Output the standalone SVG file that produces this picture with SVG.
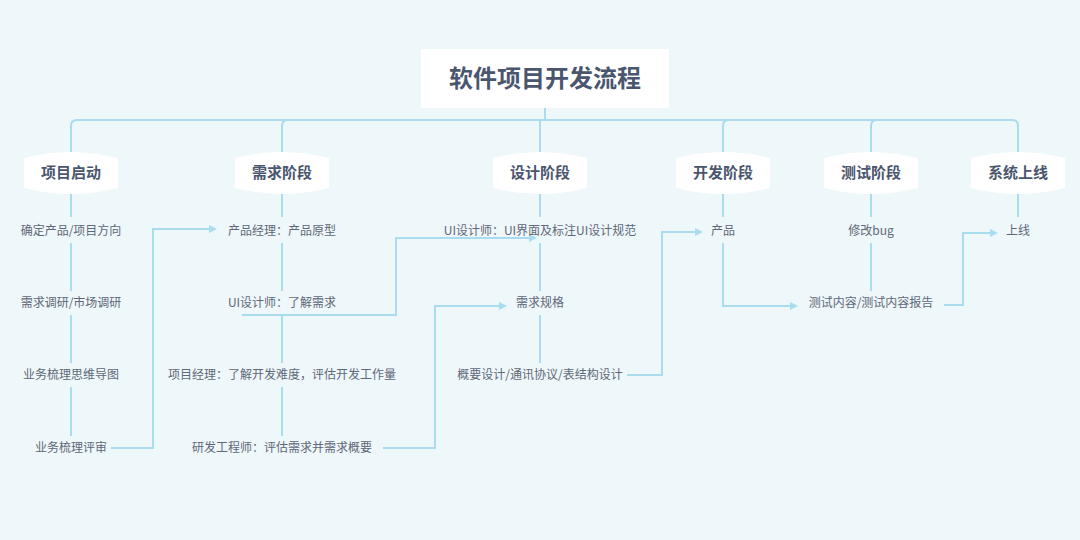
<svg xmlns="http://www.w3.org/2000/svg" width="1080" height="540" viewBox="0 0 1080 540">
<defs>
<style>
.ln{fill:none;stroke:#a9dcef;stroke-width:2;}
.ph{fill:#ffffff;}
.pt{font-family:"Noto Sans CJK SC","Noto Sans",sans-serif;font-size:15px;font-weight:bold;fill:#4a566e;text-anchor:middle;}
.ct{font-family:"Noto Sans CJK SC","Noto Sans",sans-serif;font-size:12px;fill:#5f6878;text-anchor:middle;}
.tt{font-family:"Noto Sans CJK SC","Noto Sans",sans-serif;font-size:24px;font-weight:bold;fill:#4a566e;text-anchor:middle;}
</style>
<marker id="arr" markerWidth="8" markerHeight="8" refX="0" refY="4" orient="auto" markerUnits="userSpaceOnUse">
<path d="M0,0 L8,4 L0,8 Z" fill="#a9dcef"/>
</marker>
</defs>
<rect x="0" y="0" width="1080" height="540" fill="#eef7fa"/>
<g id="connectors">
<path class="ln" d="M545,108 L545,120"/>
<path class="ln" d="M71,217 L71,126 Q71,120 77,120 L1012,120 Q1018,120 1018,126 L1018,217"/>
<path class="ln" d="M282,217 L282,126 Q282,120 288,120"/>
<path class="ln" d="M540,120 L540,217"/>
<path class="ln" d="M723,217 L723,126 Q723,120 729,120"/>
<path class="ln" d="M871,217 L871,126 Q871,120 877,120"/>
<path class="ln" d="M71,243 L71,291 M71,315 L71,363 M71,387 L71,436"/>
<path class="ln" d="M282,243 L282,291 M282,315 L282,363 M282,387 L282,436"/>
<path class="ln" d="M540,243 L540,291 M540,315 L540,363"/>
<path class="ln" d="M871,243 L871,291"/>
<path class="ln" d="M111,448 L153,448 L153,229 L209,229" marker-end="url(#arr)"/>
<path class="ln" d="M242,315 L396,315 L396,238 L529,238" marker-end="url(#arr)"/>
<path class="ln" d="M383,448 L435,448 L435,306 L499,306" marker-end="url(#arr)"/>
<path class="ln" d="M627,375 L662,375 L662,232 L695,232" marker-end="url(#arr)"/>
<path class="ln" d="M723,243 L723,306 L790,306" marker-end="url(#arr)"/>
<path class="ln" d="M944,305 L963,305 L963,233 L990,233" marker-end="url(#arr)"/>
</g>
<g id="title">
<rect x="421" y="49" width="248" height="59" fill="#ffffff"/>
<text class="tt" x="545" y="87">软件项目开发流程</text>
</g>
<g id="phase1">
<path class="ph" d="M24,158 Q71,146 118,158 L118,188 Q71,200 24,188 Z"/>
<text class="pt" x="71" y="178">项目启动</text>
</g>
<g id="phase2">
<path class="ph" d="M235,158 Q282,146 329,158 L329,188 Q282,200 235,188 Z"/>
<text class="pt" x="282" y="178">需求阶段</text>
</g>
<g id="phase3">
<path class="ph" d="M493,158 Q540,146 587,158 L587,188 Q540,200 493,188 Z"/>
<text class="pt" x="540" y="178">设计阶段</text>
</g>
<g id="phase4">
<path class="ph" d="M676,158 Q723,146 770,158 L770,188 Q723,200 676,188 Z"/>
<text class="pt" x="723" y="178">开发阶段</text>
</g>
<g id="phase5">
<path class="ph" d="M824,158 Q871,146 918,158 L918,188 Q871,200 824,188 Z"/>
<text class="pt" x="871" y="178">测试阶段</text>
</g>
<g id="phase6">
<path class="ph" d="M971,158 Q1018,146 1065,158 L1065,188 Q1018,200 971,188 Z"/>
<text class="pt" x="1018" y="178">系统上线</text>
</g>
<g id="c1a"><text class="ct" x="71" y="235">确定产品/项目方向</text></g>
<g id="c1b"><text class="ct" x="71" y="307">需求调研/市场调研</text></g>
<g id="c1c"><text class="ct" x="71" y="379">业务梳理思维导图</text></g>
<g id="c1d"><text class="ct" x="71" y="452">业务梳理评审</text></g>
<g id="c2a"><text class="ct" x="282" y="235">产品经理：产品原型</text></g>
<g id="c2b"><text class="ct" x="282" y="307">UI设计师：了解需求</text></g>
<g id="c2c"><text class="ct" x="282" y="379">项目经理：了解开发难度，评估开发工作量</text></g>
<g id="c2d"><text class="ct" x="282" y="452">研发工程师：评估需求并需求概要</text></g>
<g id="c3a"><text class="ct" x="540" y="235">UI设计师：UI界面及标注UI设计规范</text></g>
<g id="c3b"><text class="ct" x="540" y="307">需求规格</text></g>
<g id="c3c"><text class="ct" x="540" y="379">概要设计/通讯协议/表结构设计</text></g>
<g id="c4a"><text class="ct" x="723" y="235">产品</text></g>
<g id="c5a"><text class="ct" x="871" y="235">修改bug</text></g>
<g id="c5b"><text class="ct" x="871" y="307">测试内容/测试内容报告</text></g>
<g id="c6a"><text class="ct" x="1018" y="235">上线</text></g>
</svg>
